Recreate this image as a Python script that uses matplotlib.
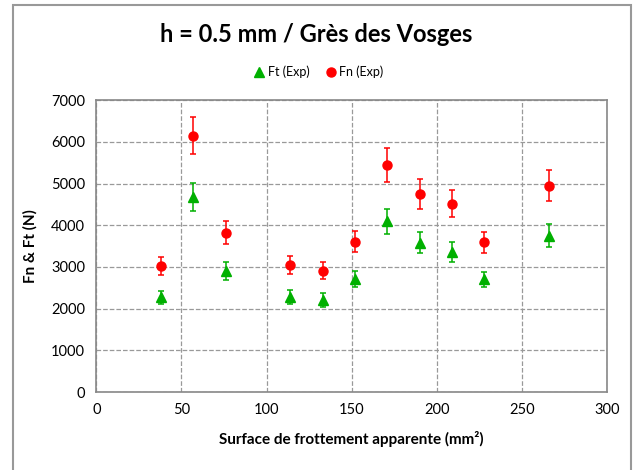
import matplotlib.pyplot as plt
from matplotlib.patches import Rectangle

# surface de frottement apparente (mm2)
surface = [38, 57, 76, 114, 133, 152, 171, 190, 209, 228, 266]

ft = [2270, 4670, 2900, 2280, 2210, 2720, 4100, 3580, 3360, 2700, 3750]
ft_err = [160, 335, 210, 160, 175, 195, 300, 250, 235, 190, 275]

fn = [3020, 6150, 3820, 3045, 2910, 3610, 5450, 4750, 4520, 3590, 4950]
fn_err = [215, 450, 275, 220, 205, 255, 400, 350, 330, 260, 370]

plt.rcParams['font.family'] = ['Lato', 'DejaVu Sans']

fig = plt.figure(figsize=(6.33, 4.70), dpi=100)
fig.patches.append(Rectangle((13 / 633, -0.05), 618 / 633, 1.05 - 5 / 470,
                             transform=fig.transFigure, fill=False,
                             edgecolor='#999999', linewidth=1.5))

ax = fig.add_axes([96.3 / 633, 78 / 470, 510.7 / 633, 291.7 / 470])

ax.errorbar(surface, ft, yerr=ft_err, fmt='^', color='#00B000', ecolor='#00B000',
            markersize=6.5, capsize=2.5, elinewidth=1.1, capthick=1.1, label='Ft (Exp)')
ax.errorbar(surface, fn, yerr=fn_err, fmt='o', color='#FF0000', ecolor='#FF0000',
            markersize=6.5, capsize=2.5, elinewidth=1.1, capthick=1.1, label='Fn (Exp)')

ax.set_xlim(0, 300)
ax.set_ylim(0, 7000)
ax.set_xticks(range(0, 301, 50))
ax.set_yticks(range(0, 7001, 1000))
ax.grid(True, linestyle='--', color='#999999', linewidth=0.9)
ax.set_axisbelow(True)
ax.tick_params(length=0, labelsize=10.5, pad=8)
for s in ax.spines.values():
    s.set_color('#888888')
    s.set_linewidth(1.2)

ax.set_xlabel('Surface de frottement apparente (mm²)', fontsize=11, fontweight='bold', labelpad=10)
ax.set_ylabel('Fn & Ft (N)', fontsize=11, fontweight='bold', labelpad=10)

fig.text(0.5, 1 - 35 / 470, 'h = 0.5 mm / Grès des Vosges', ha='center', va='center',
         fontsize=17, fontweight='bold')

h, l = ax.get_legend_handles_labels()
h = [x[0] for x in h]
fig.legend(h, l, loc='center', bbox_to_anchor=(318 / 633, 1 - 72 / 470), ncol=2,
           frameon=False, fontsize=9, handletextpad=0.2, columnspacing=1.2,
           handlelength=1.0, markerscale=1.0)

fig.savefig('out.png', dpi=100)
